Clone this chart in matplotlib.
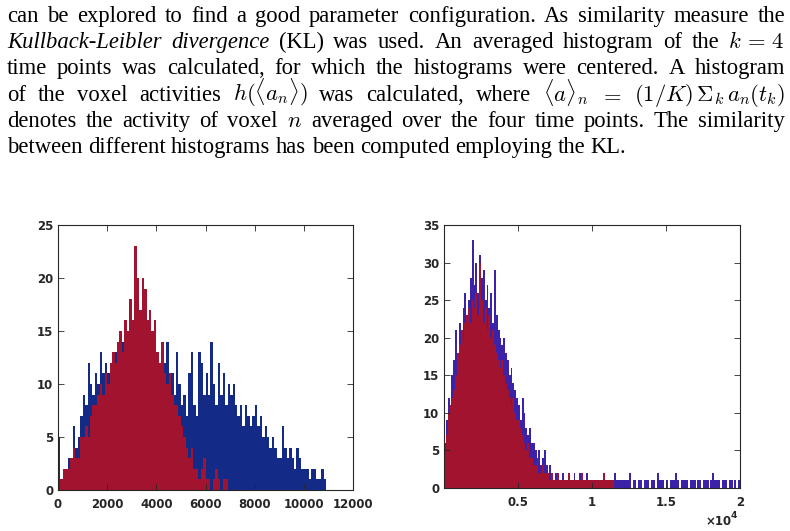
import numpy as np
import matplotlib
matplotlib.use("Agg")
import matplotlib.pyplot as plt

plt.rcParams["mathtext.fontset"] = "cm"

W, H = 790, 531

# ---- paragraph text (one list of tokens per line, True = italic) ----
lines = [
    [("can", 0), ("be", 0), ("explored", 0), ("to", 0), ("find", 0), ("a", 0), ("good", 0),
     ("parameter", 0), ("configuration.", 0), ("As", 0), ("similarity", 0), ("measure", 0), ("the", 0)],
    [("Kullback-Leibler", 1), ("divergence", 1), ("(KL)", 0), ("was", 0), ("used.", 0), ("An", 0),
     ("averaged", 0), ("histogram", 0), ("of", 0), ("the", 0), (r"$k\,=\,4$", 0)],
    [("time", 0), ("points", 0), ("was", 0), ("calculated,", 0), ("for", 0), ("which", 0), ("the", 0),
     ("histograms", 0), ("were", 0), ("centered.", 0), ("A", 0), ("histogram", 0)],
    [("of", 0), ("the", 0), ("voxel", 0), ("activities", 0), (r"$h(\langle a_n\rangle)$", 0), ("was", 0),
     ("calculated,", 0), ("where", 0), (r"$\langle a\rangle_n$", 0), (r"$=$", 0),
     (r"$(1/K)\,\Sigma_k\, a_n(t_k)$", 0)],
    [("denotes", 0), ("the", 0), ("activity", 0), ("of", 0), ("voxel", 0), (r"$n$", 0), ("averaged", 0),
     ("over", 0), ("the", 0), ("four", 0), ("time", 0), ("points.", 0), ("The", 0), ("similarity", 0)],
    [("between", 0), ("different", 0), ("histograms", 0), ("has", 0), ("been", 0), ("computed", 0),
     ("employing", 0), ("the", 0), ("KL.", 0)],
]
baselines = [22, 48, 74, 101, 127, 153]

# ---- histogram counts ----
left_bw = 100
left_blue = [5, 1, 1, 2, 3, 3, 6, 4, 5, 7,
             9, 8, 12, 10, 9, 11, 10, 13, 11, 12,
             11, 12, 10, 13, 11, 12, 14, 12, 11, 13,
             12, 13, 11, 14, 12, 13, 12, 11, 13, 12,
             10, 11, 9, 12, 14, 10, 11, 9, 13, 10,
             8, 9, 7, 11, 13, 8, 7, 13, 12, 9,
             11, 9, 14, 10, 8, 12, 9, 11, 8, 10,
             9, 10, 8, 7, 8, 6, 8, 7, 6, 7,
             8, 6, 7, 5, 6, 5, 4, 5, 4, 3,
             3, 6, 4, 3, 4, 3, 2, 4, 3, 2,
             2, 2, 1, 2, 2, 1, 1, 2, 1, 0]
left_red = [0, 1, 2, 2, 2, 3, 4, 3, 3, 5,
            5, 6, 5, 7, 8, 8, 9, 10, 9, 11,
            10, 12, 13, 12, 14, 15, 13, 16, 15, 18,
            16, 23, 20, 17, 20, 19, 16, 17, 15, 16,
            13, 12, 14, 11, 10, 11, 9, 8, 8, 7,
            6, 5, 4, 3, 4, 2, 2, 1, 2, 3,
            1, 1, 0, 1, 2, 1, 0, 1, 1, 0]

right_bw = 125
right_blue = [6, 9, 12, 11, 15, 17, 21, 16,
              22, 20, 24, 26, 23, 25, 28, 33,
              27, 30, 26, 31, 28, 29, 25, 27,
              24, 26, 22, 29, 23, 21, 20, 19,
              20, 18, 17, 15, 16, 14, 13, 12,
              11, 9, 12, 10, 8, 7, 8, 6,
              6, 5, 4, 5, 3, 4, 5, 3,
              2, 3, 2, 1, 2, 2, 1, 1,
              2, 1, 1, 2, 1, 1, 2, 1,
              1, 2, 1, 1, 0, 2, 1, 1,
              1, 1, 0, 1, 1, 1, 0, 1,
              1, 1, 0, 1, 2, 1, 1, 1,
              1, 1, 1, 1, 2, 0, 1, 1,
              0, 1, 1, 0, 1, 1, 1, 0,
              1, 1, 0, 2, 1, 1, 1, 0,
              1, 0, 1, 1, 1, 2, 1, 0,
              1, 1, 1, 1, 0, 1, 1, 1,
              0, 1, 1, 0, 1, 1, 1, 0,
              1, 2, 1, 1, 1, 0, 1, 1,
              1, 0, 1, 1, 0, 1, 0, 1]
right_red = [5, 7, 10, 11, 12, 13, 15, 18,
             19, 21, 20, 22, 23, 24, 22, 25,
             24, 26, 23, 30, 25, 22, 24, 21,
             23, 20, 21, 19, 18, 17, 16, 17,
             15, 14, 13, 12, 11, 12, 10, 9,
             9, 8, 7, 6, 5, 6, 4, 4,
             3, 3, 4, 2, 2, 3, 2, 2,
             2, 1, 2, 1, 1, 2, 1, 1,
             1, 1, 1, 2, 1, 1, 1, 1,
             1, 1, 2, 1, 1, 1, 1, 1,
             1, 1, 1, 1, 1, 1, 2, 1,
             1, 1, 1, 1]

left_xticks = [0, 2000, 4000, 6000, 8000, 10000, 12000]
left_yticks = [0, 5, 10, 15, 20, 25]
right_xticks = [5000, 10000, 15000, 20000]
right_xlabels = ["0.5", "1", "1.5", "2"]
right_yticks = [0, 5, 10, 15, 20, 25, 30, 35]

blue_l = "#142a87"
blue_r = "#3b22a8"
red = "#a2132f"
axcol = "#262626"

fig = plt.figure(figsize=(W / 100, H / 100), dpi=100)
fig.patch.set_facecolor("white")

# justified paragraph
renderer = fig.canvas.get_renderer()
x_left, x_right = 7, 785
for row, tokens in enumerate(lines):
    y = 1 - baselines[row] / H
    items = []
    for word, ital in tokens:
        t = fig.text(0, y, word, fontsize=16.3, family="Liberation Serif",
                     style="italic" if ital else "normal", va="baseline", ha="left")
        items.append((t, t.get_window_extent(renderer).width))
    total = sum(w for _, w in items)
    if row == len(lines) - 1:
        gap = 5.5
    else:
        gap = (x_right - x_left - total) / (len(items) - 1)
    x = x_left
    for t, w in items:
        t.set_x(x / W)
        x += w + gap


def style_axes(ax):
    for s in ax.spines.values():
        s.set_color(axcol)
        s.set_linewidth(0.8)
    ax.tick_params(direction="in", top=True, right=True, length=4, width=0.6,
                   colors=axcol, labelsize=8.5)
    for lab in ax.get_xticklabels() + ax.get_yticklabels():
        lab.set_fontweight("bold")


def draw_hist(ax, counts, bw, color):
    c = np.array(counts)
    edges = np.arange(len(c) + 1) * bw
    ax.stairs(c, edges, fill=True, color=color, linewidth=0)


# left histogram
ax1 = fig.add_axes([58 / W, 1 - 490 / H, 295 / W, 265 / H])
draw_hist(ax1, left_blue, left_bw, blue_l)
draw_hist(ax1, left_red, left_bw, red)
ax1.set_xlim(0, 12000)
ax1.set_ylim(0, 25)
ax1.set_xticks(left_xticks)
ax1.set_yticks(left_yticks)
ax1.tick_params(axis="x", pad=6)
style_axes(ax1)

# right histogram
ax2 = fig.add_axes([444 / W, 1 - 488 / H, 296 / W, 263 / H])
draw_hist(ax2, right_blue, right_bw, blue_r)
draw_hist(ax2, right_red, right_bw, red)
ax2.set_xlim(0, 20000)
ax2.set_ylim(0, 35)
ax2.set_xticks(right_xticks)
ax2.set_xticklabels(right_xlabels)
ax2.set_yticks(right_yticks)
ax2.tick_params(axis="x", pad=6)
style_axes(ax2)

# x10^4 multiplier
fig.text(706 / W, 1 - 525 / H, "\u00d710", fontsize=8.5, fontweight="bold",
         color=axcol, va="baseline", ha="left")
fig.text(731 / W, 1 - 518 / H, "4", fontsize=6.5, fontweight="bold",
         color=axcol, va="baseline", ha="left")

fig.savefig("out.png", dpi=100, facecolor="white")
